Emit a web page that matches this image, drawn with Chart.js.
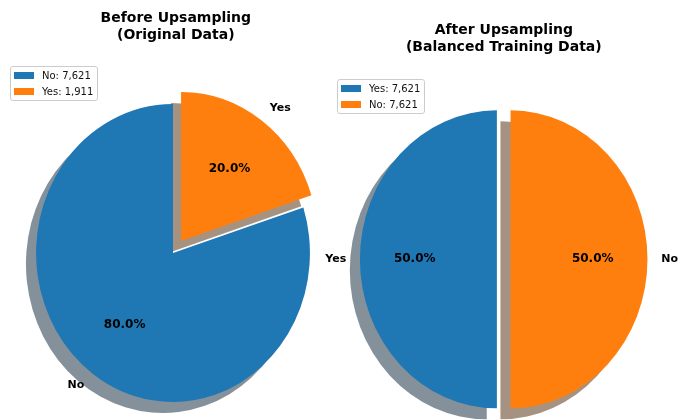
<!DOCTYPE html>
<html>
<head>
<meta charset="utf-8">
<script src="https://cdn.jsdelivr.net/npm/chart.js@4"></script>
<style>
  html, body { margin: 0; padding: 0; background: #fff; }
  #page { position: relative; width: 691px; height: 420px; overflow: hidden; font-family: "DejaVu Sans", sans-serif; }
  canvas { position: absolute; left: 0; top: 0; }
  .title { position: absolute; width: 300px; text-align: center; font-weight: bold; font-size: 14px; line-height: 17px; color: #000; }
  .legend { position: absolute; padding: 3px 4px 3px 3px; border: 1px solid #ccc; border-radius: 3px;
            background: rgba(255, 255, 255, 0.8); font-size: 10px; color: #111; white-space: nowrap; }
  .legend .row { display: flex; align-items: center; height: 11px; line-height: 11px; }
  .legend .row + .row { margin-top: 5px; }
  .legend .swatch { display: inline-block; width: 20px; height: 7px; margin-right: 8px; }
</style>
</head>
<body>
<div id="page">
  <canvas id="beforeChart" width="691" height="420"></canvas>
  <canvas id="afterChart" width="691" height="420"></canvas>
  <div class="title" style="left: 25.8px; top: 9.3px;">Before Upsampling<br>(Original Data)</div>
  <div class="title" style="left: 353.8px; top: 21px;">After Upsampling<br>(Balanced Training Data)</div>
  <div class="legend" id="beforeLegend" style="left: 10px; top: 66px;"></div>
  <div class="legend" id="afterLegend" style="left: 337px; top: 79px;"></div>
</div>
<script>
// class counts, listed counterclockwise from 12 o'clock
const beforeLabels = ['No', 'Yes'];
const beforeCounts = [7621, 1911];
const afterLabels = ['Yes', 'No'];
const afterCounts = [7621, 7621];
const sliceColors = ['#1f77b4', '#ff7f0e'];
const beforeExplode = [0, 0.1];
const afterExplode = [0.05, 0.05];

const ellipse = 0.919;              // pies are a bit narrower than tall
const shadowShift = { x: -11, y: 11 };

function shadowOf(hex) {
  const n = parseInt(hex.slice(1), 16);
  const r = (n >> 16) & 255, g = (n >> 8) & 255, b = n & 255;
  return 'rgba(' + Math.round(r * 0.3) + ', ' + Math.round(g * 0.3) + ', ' + Math.round(b * 0.3) + ', 0.5)';
}

// draws the slices ourselves: squashed sideways, pulled out, with a drop shadow
const pieDrawer = {
  id: 'pieDrawer',
  beforeDatasetsDraw(chart) {
    const ctx = chart.ctx;
    const ds = chart.data.datasets[0];
    const arcs = chart.getDatasetMeta(0).data;
    if (!arcs.length) return false;
    const cx = arcs[0].x, cy = arcs[0].y;

    ctx.save();
    ctx.translate(cx, cy);
    ctx.scale(ellipse, 1);
    ctx.translate(-cx, -cy);

    arcs.forEach((arc, i) => {
      const mid = (arc.startAngle + arc.endAngle) / 2;
      const e = ds.explode[i] * arc.outerRadius;
      ctx.save();
      ctx.translate(Math.cos(mid) * e + shadowShift.x, Math.sin(mid) * e + shadowShift.y);
      ctx.beginPath();
      ctx.moveTo(arc.x, arc.y);
      ctx.arc(arc.x, arc.y, arc.outerRadius, arc.startAngle, arc.endAngle);
      ctx.closePath();
      ctx.fillStyle = shadowOf(ds.backgroundColor[i]);
      ctx.fill();
      ctx.restore();
    });

    arcs.forEach((arc, i) => {
      const mid = (arc.startAngle + arc.endAngle) / 2;
      const e = ds.explode[i] * arc.outerRadius;
      ctx.save();
      ctx.translate(Math.cos(mid) * e, Math.sin(mid) * e);
      arc.draw(ctx);
      ctx.restore();
    });

    ctx.restore();
    return false;
  },
  afterDraw(chart) {
    const ctx = chart.ctx;
    const ds = chart.data.datasets[0];
    const arcs = chart.getDatasetMeta(0).data;
    const total = ds.data.reduce((a, b) => a + b, 0);

    arcs.forEach((arc, i) => {
      const mid = (arc.startAngle + arc.endAngle) / 2;
      const r = arc.outerRadius, e = ds.explode[i];
      const cos = Math.cos(mid), sin = Math.sin(mid);
      const pct = (ds.data[i] / total * 100).toFixed(1) + '%';

      ctx.save();
      ctx.fillStyle = '#000';
      ctx.textBaseline = 'middle';

      ctx.font = 'bold 11px "DejaVu Sans"';
      ctx.textAlign = cos > 0 ? 'left' : 'right';
      ctx.fillText(chart.data.labels[i], arc.x + (e + 1.1) * r * cos * ellipse, arc.y + (e + 1.1) * r * sin);

      ctx.font = 'bold 12px "DejaVu Sans"';
      ctx.textAlign = 'center';
      ctx.fillText(pct, arc.x + (e + 0.6) * r * cos * ellipse, arc.y + (e + 0.6) * r * sin);
      ctx.restore();
    });
  }
};

function makePie(canvasId, labels, counts, explode, padding) {
  // Chart.js runs clockwise, so hand the slices over in reverse
  const rev = a => a.slice().reverse();
  new Chart(document.getElementById(canvasId), {
    type: 'pie',
    data: {
      labels: rev(labels),
      datasets: [{
        data: rev(counts),
        backgroundColor: rev(sliceColors),
        explode: rev(explode),
        borderWidth: 0
      }]
    },
    options: {
      responsive: false,
      animation: false,
      events: [],
      radius: 149,
      layout: { padding: padding },
      plugins: { legend: { display: false }, tooltip: { enabled: false } }
    },
    plugins: [pieDrawer]
  });
}

function buildLegend(boxId, labels, counts) {
  const box = document.getElementById(boxId);
  labels.forEach((name, i) => {
    const row = document.createElement('div');
    row.className = 'row';
    row.innerHTML = '<span class="swatch" style="background:' + sliceColors[i] + '"></span>' +
      name + ': ' + counts[i].toLocaleString('en-US');
    box.appendChild(row);
  });
}

makePie('beforeChart', beforeLabels, beforeCounts, beforeExplode, { left: 0, right: 345, top: 86, bottom: 0 });
makePie('afterChart', afterLabels, afterCounts, afterExplode, { left: 316.4, right: 0, top: 98.6, bottom: 0 });
buildLegend('beforeLegend', beforeLabels, beforeCounts);
buildLegend('afterLegend', afterLabels, afterCounts);
</script>
</body>
</html>
